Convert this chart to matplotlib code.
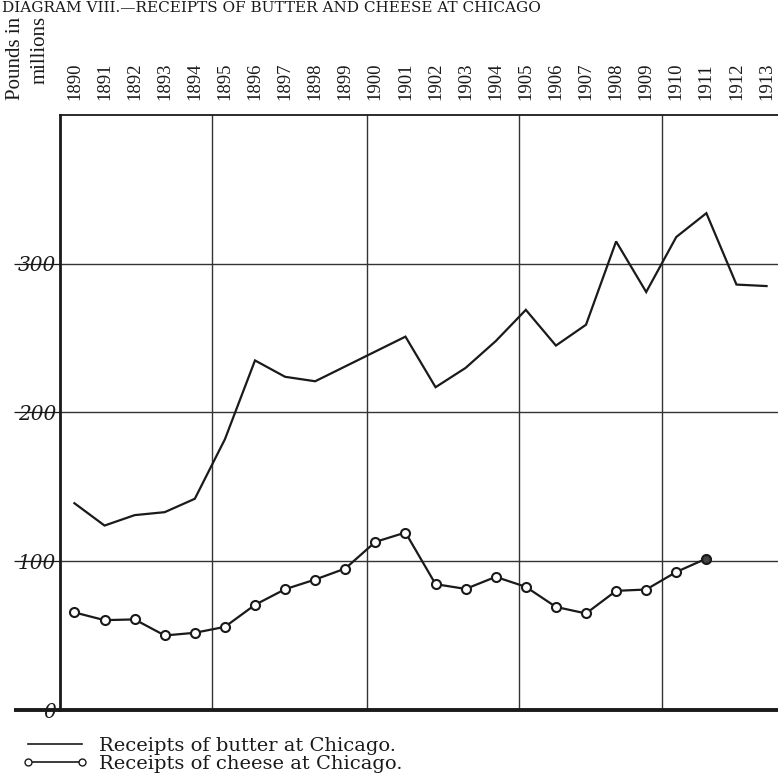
import matplotlib
matplotlib.use("Agg")
import matplotlib.pyplot as plt
from matplotlib.lines import Line2D

# ---- data (millions of pounds) ----
years = list(range(1890, 1914))
butter = [139, 124, 131, 133, 142, 182, 235, 224, 221, 231, 241, 251,
          217, 230, 248, 269, 245, 259, 315, 281, 318, 334, 286, 285]
cheese_years = list(range(1890, 1912))
cheese = [65.6, 60.4, 60.9, 50.1, 51.9, 55.9, 70.7, 81.2, 87.7, 95.1, 113.0,
          119.3, 84.6, 81.4, 89.5, 82.8, 69.3, 64.9, 80.1, 81.0, 92.8, 101.8]
year_labels = [str(y) for y in years]
y_ticks = [0, 100, 200, 300]
y_tick_labels = ["0", "100", "200", "300"]
period_dividers = [1894.57, 1899.72, 1904.77, 1909.52]

title = "DIAGRAM VIII.\u2014RECEIPTS OF BUTTER AND CHEESE AT CHICAGO"
butter_label = "Receipts of butter at Chicago."
cheese_label = "Receipts of cheese at Chicago."

W, H = 778, 782
fig = plt.figure(figsize=(W / 100, H / 100), dpi=100)
fig.patch.set_facecolor("white")

ax = fig.add_axes([60 / W, (H - 710) / H, (W - 60) / W, (710 - 115) / H])
ax.set_xlim(1889.52, 1913.38)
ax.set_ylim(0, 400)

ink = "#1a1a1a"

# grid
for v in y_ticks[1:]:
    ax.axhline(v, color="#333333", lw=1.0, zorder=1)
for d in period_dividers:
    ax.axvline(d, color="#333333", lw=1.0, zorder=1)

# series
ax.plot(years, butter, color=ink, lw=1.6, zorder=3, solid_joinstyle="miter")
ax.plot(cheese_years, cheese, color=ink, lw=1.6, marker="o", markersize=6.5,
        markerfacecolor="white", markeredgecolor=ink, markeredgewidth=1.5, zorder=3)
ax.plot(cheese_years[-1:], cheese[-1:], linestyle="none", marker="o", markersize=6,
        markerfacecolor="#444444", markeredgecolor=ink, markeredgewidth=1.2, zorder=4)

# spines
ax.spines["right"].set_visible(False)
ax.spines["left"].set_linewidth(2.0)
ax.spines["bottom"].set_linewidth(2.8)
ax.spines["top"].set_linewidth(1.3)
for s in ["left", "bottom", "top"]:
    ax.spines[s].set_color(ink)

# x ticks on top: years rotated
ax.xaxis.tick_top()
ax.set_xticks(years)
ax.set_xticklabels(year_labels, rotation=90, fontsize=13.5,
                   family="Liberation Serif", color=ink)
ax.tick_params(axis="x", length=0, pad=11)

# y ticks: long ticks running through hand-written labels
ax.set_yticks(y_ticks)
ax.set_yticklabels(y_tick_labels, fontsize=14.5, family="DejaVu Serif",
                   style="italic", color=ink)
ax.tick_params(axis="y", length=33, width=0.9, pad=-30, colors=ink)
ax.yaxis.get_major_ticks()[0].tick1line.set_markeredgewidth(2.8)

# unit label
fig.text(16 / W, 1 - 100 / H, "Pounds in", rotation=90, ha="center", va="bottom",
         fontsize=15, family="Liberation Serif", color=ink)
fig.text(40 / W, 1 - 84 / H, "millions", rotation=90, ha="center", va="bottom",
         fontsize=15, family="Liberation Serif", color=ink)

# title (the scan shows it running along the top edge)
fig.text(2 / W, 1 - 11.5 / H, title, ha="left", va="baseline", fontsize=11,
         family="DejaVu Serif", color=ink)

# legend
handles = [
    Line2D([], [], color=ink, lw=1.2),
    Line2D([], [], color=ink, lw=1.2, marker="o", markersize=5,
           markerfacecolor="white", markeredgecolor=ink, markeredgewidth=1.0),
]
fig.legend(handles, [butter_label, cheese_label], loc="upper left",
           bbox_to_anchor=(22 / W, 1 - 737 / H), frameon=False, numpoints=2,
           prop={"family": "DejaVu Serif", "size": 14},
           handlelength=3.4, handletextpad=0.55, labelspacing=0.0,
           borderpad=0, borderaxespad=0, labelcolor=ink)

fig.savefig("out.png", dpi=100, facecolor="white")
